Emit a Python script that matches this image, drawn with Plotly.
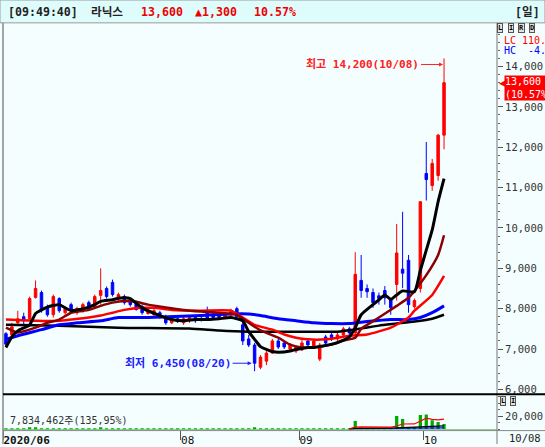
import plotly.graph_objects as go

# ---------------- data ----------------
DATES = [
    "2020/06/22", "2020/06/23", "2020/06/24", "2020/06/25", "2020/06/26", "2020/06/29", "2020/06/30",
    "2020/07/01", "2020/07/02", "2020/07/03", "2020/07/06", "2020/07/07", "2020/07/08", "2020/07/09",
    "2020/07/10", "2020/07/13", "2020/07/14", "2020/07/15", "2020/07/16", "2020/07/17", "2020/07/20",
    "2020/07/21", "2020/07/22", "2020/07/23", "2020/07/24", "2020/07/27", "2020/07/28", "2020/07/29",
    "2020/07/30", "2020/07/31",
    "2020/08/03", "2020/08/04", "2020/08/05", "2020/08/06", "2020/08/07", "2020/08/10", "2020/08/11",
    "2020/08/12", "2020/08/13", "2020/08/14", "2020/08/18", "2020/08/19", "2020/08/20", "2020/08/21",
    "2020/08/24", "2020/08/25", "2020/08/26", "2020/08/27", "2020/08/28", "2020/08/31",
    "2020/09/01", "2020/09/02", "2020/09/03", "2020/09/04", "2020/09/07", "2020/09/08", "2020/09/09",
    "2020/09/10", "2020/09/11", "2020/09/14", "2020/09/15", "2020/09/16", "2020/09/17", "2020/09/18",
    "2020/09/21", "2020/09/22", "2020/09/23", "2020/09/24", "2020/09/25", "2020/09/28", "2020/09/29",
    "2020/10/05", "2020/10/06", "2020/10/07", "2020/10/08",
]

OPEN = [7380, 7350, 7650, 7800, 7750, 8280, 8400, 8050, 7850, 8250,
        7900, 8100, 7900, 7950, 8150, 8050, 8330, 8500, 8650, 8250,
        8300, 8200, 8150, 8050, 7880, 7850, 7900, 7800, 7650, 7750,
        7650, 7700, 7780, 7760, 7950, 7850, 7830, 7800, 7850, 8000,
        7600, 7250, 7100, 6550, 6700, 6900, 7200, 7150, 7000, 6950,
        6980, 7200, 7050, 6750, 7300, 7350, 7250, 7350, 7500, 7400,
        8700, 8500, 8400, 8320, 8450, 8220, 8600, 8980, 9200, 8050,
        8500, 11350, 11050, 11300, 12300]
HIGH = [7420, 7650, 7950, 7900, 8300, 8700, 8450, 8100, 8350, 8280,
        8050, 8150, 8050, 8150, 8200, 8350, 9000, 8550, 8720, 8400,
        8350, 8250, 8200, 8100, 8000, 8000, 7950, 7850, 7800, 7800,
        7800, 7820, 7820, 7800, 8050, 7900, 7870, 7900, 8000, 8050,
        7700, 7350, 7150, 6850, 6950, 7250, 7250, 7200, 7150, 7100,
        7250, 7250, 7250, 7150, 7350, 7400, 7400, 7550, 7550, 9400,
        9330, 8600, 8500, 8400, 8560, 8270, 10100, 10400, 9330, 8250,
        10650, 12130, 11710, 12330, 14200]
LOW = [7050, 7300, 7600, 7600, 7700, 8250, 7900, 7800, 7780, 7900,
       7850, 7900, 7850, 7900, 7950, 8000, 8100, 8250, 8300, 8200,
       8100, 8050, 7950, 7850, 7850, 7800, 7750, 7600, 7620, 7650,
       7600, 7650, 7650, 7680, 7700, 7750, 7760, 7760, 7820, 7780,
       7100, 7050, 6450, 6500, 6600, 6880, 7000, 7000, 6950, 6900,
       6950, 7080, 7000, 6700, 7100, 7200, 7200, 7300, 7350, 7300,
       8270, 8270, 8020, 8100, 8100, 7850, 8200, 8510, 7900, 8000,
       8400, 10680, 10920, 11170, 11950]
CLOSE = [7120, 7550, 7750, 7700, 8250, 8500, 7950, 7850, 8300, 7950,
         8000, 7950, 8000, 8100, 8000, 8300, 8450, 8300, 8350, 8350,
         8150, 8100, 7980, 7900, 7950, 7950, 7780, 7650, 7750, 7680,
         7750, 7780, 7700, 7720, 7750, 7780, 7790, 7850, 7920, 7800,
         7200, 7100, 6650, 6800, 6900, 7200, 7050, 7050, 7100, 7050,
         7150, 7100, 7200, 7100, 7150, 7250, 7350, 7500, 7400, 8850,
         8450, 8420, 8150, 8250, 8270, 8020, 9380, 8880, 8100, 8200,
         10650, 11200, 11600, 12300, 13600]
VOLUME = [420000, 610000, 530000, 380000, 1800000, 1250000, 880000, 470000, 900000, 520000,
          330000, 410000, 290000, 360000, 450000, 620000, 1600000, 740000, 830000, 390000,
          410000, 350000, 300000, 280000, 260000, 240000, 310000, 330000, 220000, 250000,
          230000, 210000, 260000, 200000, 420000, 270000, 230000, 250000, 280000, 310000,
          900000, 750000, 1300000, 820000, 540000, 610000, 380000, 300000, 280000, 260000,
          340000, 290000, 310000, 640000, 420000, 330000, 360000, 480000, 390000, 12500000,
          2100000, 1200000, 950000, 800000, 1000000, 900000, 20400000, 15700000, 2500000, 1500000,
          22000000, 22800000, 13600000, 11000000, 7834462]

# price-axis labels
PRICE_TICKS = [6000, 7000, 8000, 9000, 10000, 11000, 12000, 13000, 14000]
VOLUME_TICKS = [20000000]
VOLUME_TICK_TEXT = ["20,000"]

# moving-average lines (index of trading day, price)
MA5_X = [0, 1, 2, 4, 5, 6, 7, 9, 10, 11, 12, 14, 15, 16, 18, 19, 20, 21, 23, 26, 28, 30, 32, 34, 36,
         38, 40, 41, 42, 43, 45, 46, 48, 49, 51, 52, 54, 56, 58, 59, 60, 62, 63, 64, 65, 66, 67, 69,
         70, 71, 72, 73, 74]
MA5 = [7040, 7300, 7450, 7600, 7880, 7970, 8040, 8100, 8020, 7950, 7970, 8040, 8100, 8180, 8220,
       8260, 8270, 8250, 8020, 7830, 7730, 7700, 7730, 7730, 7750, 7780, 7700, 7430, 7240, 7060,
       6940, 6920, 6950, 6990, 7040, 7040, 7090, 7160, 7300, 7530, 7850, 8100, 8220, 8340, 8230,
       8340, 8440, 8420, 8950, 9450, 9950, 10650, 11220]
MA20_X = [0, 2, 5, 7, 9, 11, 14, 16, 18, 20, 22, 24, 27, 30, 33, 36, 39, 41, 43, 46, 48, 50, 52,
          55, 57, 59, 60, 63, 66, 68, 69, 71, 73, 74]
MA20 = [7530, 7410, 7530, 7650, 7730, 7900, 7970, 8070, 8150, 8190, 8170, 8100, 8030, 7970, 7930,
        7900, 7850, 7650, 7460, 7280, 7110, 7040, 7040, 7110, 7210, 7280, 7500, 7780, 8070, 8270,
        8440, 8830, 9330, 9820]
MA60_X = [0, 5, 9, 11, 14, 16, 18, 20, 23, 25, 28, 33, 38, 40, 42, 45, 47, 49, 51, 54, 56, 58,
          61, 65, 68, 69, 72, 74]
MA60 = [7730, 7700, 7700, 7730, 7780, 7830, 7900, 7970, 8020, 8020, 7970, 7950, 7950, 7780, 7600,
        7480, 7360, 7280, 7240, 7240, 7280, 7330, 7360, 7530, 7780, 7950, 8340, 8810]
MA120_X = [0, 2, 6, 9, 12, 16, 19, 24, 33, 38, 41, 43, 46, 49, 52, 55, 58, 61, 65, 68, 70, 72, 74]
MA120 = [7240, 7330, 7480, 7600, 7650, 7700, 7780, 7780, 7830, 7870, 7870, 7830, 7750, 7700, 7650,
         7630, 7630, 7680, 7730, 7730, 7780, 7900, 8070]
MA240_X = [0, 9, 19, 31, 36, 41, 50, 56, 60, 63, 66, 69, 72, 74]
MA240 = [7600, 7580, 7530, 7510, 7460, 7430, 7430, 7430, 7510, 7580, 7630, 7680, 7750, 7850]

# volume moving averages (visible part only)
VMA_R_X = [58, 59, 60, 64, 65, 66, 67, 69, 70, 71, 72, 73, 74]
VMA_R = [500000, 3000000, 3300000, 3400000, 3200000, 4800000, 7900000, 8000000,
         12400000, 16900000, 15200000, 14200000, 15400000]
VMA_K_X = [58, 59, 66, 70, 74]
VMA_K = [500000, 1100000, 2000000, 3200000, 5000000]
VMA_B_X = [58, 66, 74]
VMA_B = [600000, 1000000, 2000000]

HEADER_TIME = "[09:49:40]"
STOCK_NAME = "라닉스"
CHANGE = 1300
CHANGE_PCT = "10.57%"
VOLUME_TEXT = "7,834,462주(135,95%)"

# ---------------- layout helpers ----------------
W, H = 545, 447
BG = "#f4fefe"
MONO = "DejaVu Sans Mono, Noto Sans CJK KR"


def px(x):
    return x / W


def py(y):
    return 1 - y / H


X = list(range(len(DATES)))

fig = go.Figure()

fig.add_trace(go.Candlestick(
    x=X, open=OPEN, high=HIGH, low=LOW, close=CLOSE,
    increasing=dict(line=dict(color="#ff0000", width=1), fillcolor="#ff0000"),
    decreasing=dict(line=dict(color="#0000ff", width=1), fillcolor="#0000ff"),
    whiskerwidth=0, showlegend=False, hoverinfo="skip", xaxis="x", yaxis="y"))

for mx, my, col, wd in [
    (MA240_X, MA240, "#000000", 2.5),
    (MA120_X, MA120, "#0000ff", 3),
    (MA60_X, MA60, "#ff0000", 2.5),
    (MA20_X, MA20, "#8b0000", 2.5),
    (MA5_X, MA5, "#000000", 3),
]:
    fig.add_trace(go.Scatter(x=mx, y=my, mode="lines", showlegend=False, hoverinfo="skip",
                             line=dict(color=col, width=wd, shape="spline", smoothing=0.5),
                             xaxis="x", yaxis="y"))

fig.add_trace(go.Bar(x=X, y=VOLUME, marker=dict(color="#00aa00", line=dict(width=0)), width=0.55,
                     showlegend=False, hoverinfo="skip", xaxis="x2", yaxis="y2"))
for mx, my, col in [(VMA_B_X, VMA_B, "#0000ff"), (VMA_K_X, VMA_K, "#000000"), (VMA_R_X, VMA_R, "#ff0000")]:
    fig.add_trace(go.Scatter(x=mx, y=my, mode="lines", line=dict(color=col, width=1.2),
                             showlegend=False, hoverinfo="skip", xaxis="x2", yaxis="y2"))

# month boundary ticks from the dates (the first month label is the full year/month)
tickvals = [-0.5]
ticktext = ["<b>" + DATES[0][:7] + "</b>"]
for i in range(1, len(DATES)):
    if DATES[i][5:7] != DATES[i - 1][5:7] and i > 10:
        tickvals.append(i - 0.5)
        ticktext.append(DATES[i][5:7])

XDOM = [px(3), px(497)]
XRANGE = [-0.5, -0.5 + (497 - 3) / 5.92]

fig.update_layout(
    width=W, height=H, margin=dict(l=0, r=0, t=0, b=0),
    paper_bgcolor=BG, plot_bgcolor=BG, showlegend=False, boxgap=0.4,
    xaxis=dict(domain=XDOM, range=XRANGE, showticklabels=False, showgrid=False, zeroline=False,
               showline=False, ticks="", anchor="y", rangeslider=dict(visible=False), fixedrange=True),
    yaxis=dict(domain=[py(396), py(24)], range=[5902, 15058], side="right", anchor="x",
               tickmode="array", tickvals=PRICE_TICKS, tickformat=",d", ticks="outside", ticklen=5,
               tickcolor="#555", showgrid=False, zeroline=False, showline=False,
               tickfont=dict(family=MONO, size=10.5, color="#333"),
               minor=dict(tickmode="linear", tick0=6000, dtick=200, ticks="outside", ticklen=2,
                          tickcolor="#666")),
    xaxis2=dict(domain=XDOM, range=XRANGE, matches="x", anchor="y2", showgrid=False, zeroline=False,
                showline=False, tickmode="array", tickvals=tickvals, ticktext=ticktext,
                ticks="outside", ticklen=9, tickcolor="#555", ticklabelposition="outside right",
                tickfont=dict(family=MONO, size=11, color="#111")),
    yaxis2=dict(domain=[py(433), py(398)], range=[-1540000, 52300000], side="right", anchor="x2",
                tickmode="array", tickvals=VOLUME_TICKS, ticktext=VOLUME_TICK_TEXT, ticks="outside",
                ticklen=5, tickcolor="#555", showgrid=False, zeroline=True,
                zerolinecolor="#8fd08f", zerolinewidth=1, showline=False,
                tickfont=dict(family=MONO, size=10.5, color="#333"),
                minor=dict(tickmode="linear", tick0=0, dtick=10000000, ticks="outside", ticklen=2,
                           tickcolor="#666")),
)

shapes = [
    dict(type="rect", xref="paper", yref="paper", x0=0, x1=1, y0=py(23), y1=1,
         fillcolor="#dffcfc", line=dict(color="#9a9a9a", width=1), layer="below"),
    dict(type="line", xref="paper", yref="paper", x0=px(3), x1=px(3), y0=0, y1=py(23),
         line=dict(color="#888", width=1.5)),
    dict(type="line", xref="paper", yref="paper", x0=px(497), x1=px(497), y0=0, y1=py(23),
         line=dict(color="#777", width=1)),
    dict(type="line", xref="paper", yref="paper", x0=px(3), x1=1, y0=py(397), y1=py(397),
         line=dict(color="#000", width=2)),
    dict(type="line", xref="paper", yref="paper", x0=px(3), x1=1, y0=py(433.5), y1=py(433.5),
         line=dict(color="#888", width=1)),
]
fig.update_layout(shapes=shapes)

ann = []


def text(x, y, s, color="#222", size=11, anchor="left", bold=False, **kw):
    ann.append(dict(xref="paper", yref="paper", x=px(x), y=py(y), text=("<b>%s</b>" % s) if bold else s,
                    showarrow=False, xanchor=anchor, yanchor="middle",
                    font=dict(family=MONO, size=size, color=color), **kw))


last = len(CLOSE) - 1
text(6, 12, HEADER_TIME, "#222", 11.6, bold=True)
text(89, 12, STOCK_NAME, "#222", 11.6, bold=True)
text(139, 12, f"{CLOSE[last]:,}", "#ee0000", 11.6, bold=True)
text(193, 12, f"▲{CHANGE:,}", "#ee0000", 11.6, bold=True)
text(252, 12, CHANGE_PCT, "#ee0000", 11.6, bold=True)
text(513, 12, "[일]", "#222", 11.6, bold=True)

for i, ch in enumerate("LIRD"):
    text(500 + i * 10.5, 28.5, ch, "#000", 7, anchor="center", bold=True,
         bgcolor="#e4e4e4", bordercolor="#555", borderwidth=1, borderpad=0)
for i, ch in enumerate("LI"):
    text(503 + i * 10, 404, ch, "#000", 7, anchor="center", bold=True,
         bgcolor="#e4e4e4", bordercolor="#555", borderwidth=1, borderpad=0)

text(502, 41, "LC 110.", "#ff0000", 10)
text(502, 51, "HC  -4.", "#0000ff", 10)
text(8, 423, VOLUME_TEXT, "#333", 10)
text(507, 441, DATES[last][5:], "#222", 10.5)

# current price marker
ann.append(dict(xref="paper", yref="y", x=px(504), y=CLOSE[last], yanchor="top", xanchor="left",
                yshift=8, showarrow=False, align="left",
                text=f"{CLOSE[last]:,}<br>({CHANGE_PCT}",
                font=dict(family=MONO, size=10, color="#ffffff"), bgcolor="#ff0000", borderpad=0))
ann.append(dict(xref="paper", yref="y", x=px(497), y=CLOSE[last], yanchor="middle", xanchor="left",
                yshift=0, showarrow=False, text="◀", font=dict(size=9, color="#ff0000")))

# high / low markers
hi = max(range(len(HIGH)), key=lambda i: HIGH[i])
lo = min(range(len(LOW)), key=lambda i: LOW[i])
ann.append(dict(xref="x", yref="y", x=hi, y=HIGH[hi], ax=-23, ay=0, xanchor="right",
                yshift=-6, showarrow=True, arrowhead=2, arrowsize=0.8, arrowwidth=1,
                arrowcolor="#ff2020", standoff=1,
                text=f"<b>최고 {HIGH[hi]:,}({DATES[hi][5:]})</b>",
                font=dict(family=MONO, size=11, color="#ff2020")))
ann.append(dict(xref="x", yref="y", x=lo, y=LOW[lo], ax=-22, ay=0, xanchor="right",
                yshift=8, showarrow=True, arrowhead=2, arrowsize=0.8, arrowwidth=1,
                arrowcolor="#2020ff", standoff=3,
                text=f"<b>최저 {LOW[lo]:,}({DATES[lo][5:]})</b>",
                font=dict(family=MONO, size=11, color="#2020ff")))

fig.update_layout(annotations=ann)
fig.write_html("out.html", config={"displayModeBar": False},
               post_script="document.body.style.margin='0';document.body.style.overflow='hidden';")
